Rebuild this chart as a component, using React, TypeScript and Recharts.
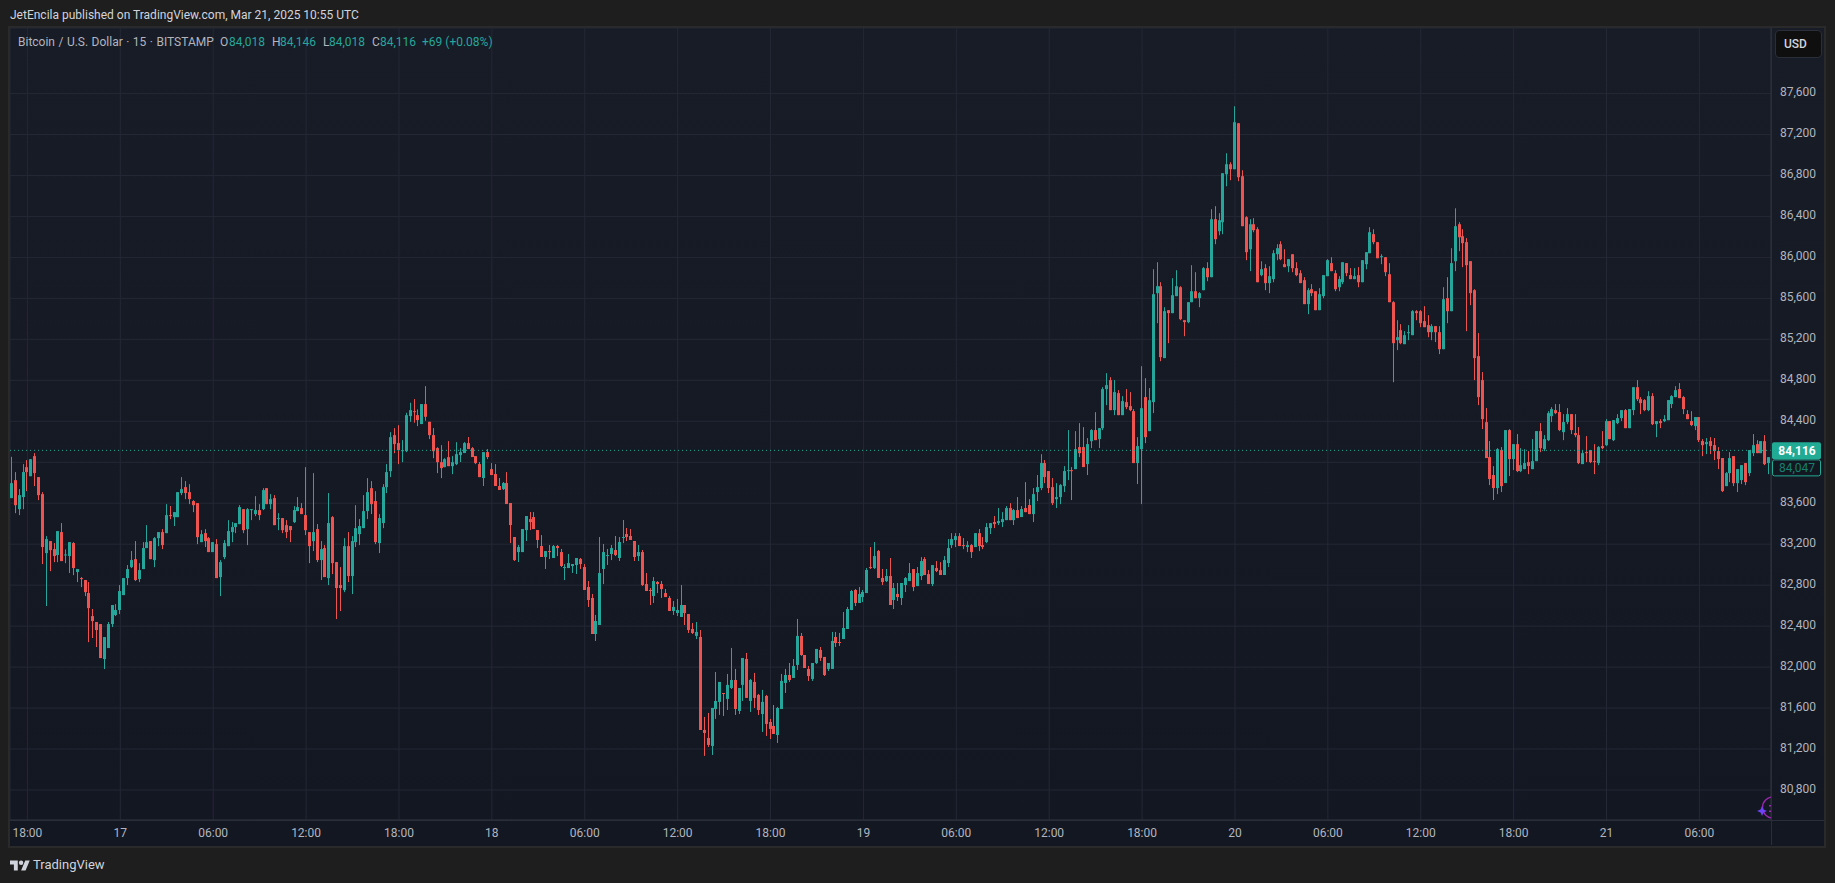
import { Bar, CartesianGrid, ComposedChart, ReferenceLine, XAxis, YAxis } from 'recharts'

// 15 minute BTC/USD bars, first bar is Mar 16 17:00
const opens = [
  83650,83825,83542,83660,83952,83864,84060,83855,83689,83113,
  83230,83152,83094,83318,83094,83084,83211,82928,82869,82850,
  82723,82498,82440,82420,82079,82186,82420,82508,82557,82703,
  82869,82976,83054,82859,82957,83162,83230,83045,83259,83318,
  83308,83484,83464,83464,83699,83757,83708,83621,83601,83220,
  83308,83259,83123,83201,82879,83074,83181,83318,83367,83396,
  83542,83347,83533,83494,83533,83542,83747,83591,83650,83445,
  83455,83386,83377,83416,83523,83552,83484,83318,83230,83347,
  83045,83162,82869,83464,83025,82801,82752,83181,82889,83220,
  83298,83357,83523,83747,83621,83211,83406,83757,83913,84265,
  84187,84108,84108,84451,84499,84460,84373,84568,84395,84265,
  84138,84001,83952,84050,83962,83982,84070,84090,84187,84138,
  84060,83982,83846,84099,83933,83885,83768,83738,83797,83602,
  83270,83123,83123,83338,83445,83465,83338,83182,83075,83133,
  83065,83182,83123,82967,82967,82987,82997,83055,82977,82782,
  82675,82323,82411,82958,83084,83104,83143,83065,83260,83299,
  83280,83231,83084,83123,82811,82753,82694,82831,82811,82723,
  82675,82548,82528,82489,82606,82518,82372,82304,82294,81386,
  81308,81230,81591,81660,81747,81689,81796,81874,81572,81826,
  82079,81669,81855,81728,81542,81718,81464,81425,81337,81591,
  81845,81923,81894,82021,82304,82118,81982,81884,82040,82167,
  82099,81982,81982,82294,82245,82274,82372,82557,82753,82626,
  82684,82723,82977,82967,83133,82870,82840,82889,82655,82714,
  82674,82801,82840,82957,82791,82889,83055,82908,82811,82967,
  82947,82899,83016,83191,83240,83279,83191,83172,83191,83172,
  83308,83191,83221,83357,83416,83406,83416,83435,83553,83435,
  83533,83465,83553,83582,83494,83709,83748,83992,83914,83757,
  83640,83660,83767,83914,83923,83933,84148,84148,83982,84206,
  84314,84226,84333,84714,84802,84509,84675,84460,84587,84548,
  84499,83992,84128,84636,84304,84587,85651,85719,85017,85485,
  85456,85622,85709,85387,85368,85563,85670,85602,85680,85895,
  85807,86373,86256,86344,86812,86910,86861,87310,86793,86393,
  86080,86324,86275,85827,85895,85749,85788,86032,86129,85934,
  85914,86031,85895,85846,85778,85544,85690,85670,85485,85622,
  85817,85944,85846,85709,85758,85944,85827,85788,85827,85758,
  85934,86041,86227,86149,86002,86002,85836,85563,85192,85290,
  85153,85261,85241,85475,85475,85378,85339,85270,85329,85270,
  85104,85602,85475,85963,86324,86207,86149,85963,85680,85036,
  84802,84392,84050,83875,83748,84119,83797,84314,84031,84177,
  83914,83933,84002,83933,84011,84304,84128,84216,84450,84509,
  84490,84294,84392,84470,84285,84265,83982,84099,84119,84011,
  83992,84158,84167,84402,84216,84382,84431,84509,84333,84509,
  84733,84616,84607,84509,84646,84372,84402,84402,84411,84568,
  84636,84714,84636,84470,84402,84353,84441,84207,84177,84207,
  84167,84109,84041,83767,83894,84060,83796,83826,83992,83894,
  84089,84177,84089,84206,83992,
]
const closes = [
  83796,83581,83679,83904,83904,84030,83894,83679,83172,83250,
  83142,83084,83328,83035,83100,83220,82967,82957,82859,82732,
  82576,82449,82362,82088,82293,82420,82606,82557,82742,82869,
  82957,83045,82850,82947,83162,83220,83054,83259,83318,83191,
  83484,83474,83513,83708,83738,83699,83640,83581,83269,83298,
  83230,83123,83220,82869,83025,83211,83328,83367,83406,83562,
  83337,83542,83542,83533,83484,83728,83591,83640,83386,83455,
  83337,83318,83337,83533,83562,83494,83337,83181,83318,83045,
  83152,82879,83406,83015,82772,82772,83181,82889,83230,83357,
  83377,83523,83708,83591,83220,83455,83757,83904,84245,84177,
  84118,84118,84460,84509,84490,84412,84568,84444,84265,84108,
  84001,83943,84030,83962,84001,84079,84099,84187,84129,84051,
  83992,83855,84099,84051,83875,83768,83729,83797,83592,83387,
  83045,83172,83348,83475,83416,83348,83241,83075,83133,83123,
  83182,83162,82987,82977,83016,83006,83065,83006,82753,82655,
  82323,82450,82918,83123,83094,83162,83094,83221,83270,83270,
  83241,83075,83123,82801,82743,82743,82840,82811,82762,82684,
  82548,82587,82557,82606,82528,82362,82333,82343,81386,81357,
  81240,81601,81669,81855,81738,81826,81874,81591,81796,82089,
  81699,81874,81699,81581,81660,81445,81396,81347,81601,81865,
  81923,81874,82011,82304,82118,81991,81913,82040,82177,82089,
  81923,82040,82255,82235,82235,82382,82567,82743,82626,82714,
  82733,82948,82967,83084,82870,82831,82889,82606,82772,82684,
  82821,82869,82918,82781,82918,83035,82899,82811,82996,82938,
  82899,83045,83162,83250,83279,83182,83182,83191,83123,83308,
  83182,83172,83367,83406,83396,83426,83445,83553,83435,83533,
  83455,83543,83513,83494,83689,83757,83992,83855,83748,83601,
  83660,83777,83914,83923,83914,84128,84089,83953,84177,84314,
  84216,84333,84714,84753,84509,84685,84460,84597,84538,84509,
  83992,84158,84528,84245,84606,85641,85719,85026,85475,85456,
  85631,85719,85397,85368,85563,85670,85602,85651,85895,85807,
  86373,86178,86363,86822,86910,86861,87320,86783,86305,86051,
  86324,86266,85758,85885,85749,85817,86041,86090,85983,85905,
  85983,85895,85827,85749,85544,85680,85651,85485,85641,85827,
  85973,85866,85690,85788,85953,85846,85788,85817,85758,85973,
  86051,86246,86149,85992,86012,85856,85563,85163,85221,85163,
  85241,85270,85475,85456,85358,85319,85270,85329,85270,85104,
  85592,85475,85944,86305,86197,86139,85924,85651,85017,84636,
  84421,84041,83836,83748,84128,83767,84314,84031,84177,83914,
  83972,83992,83963,84011,84304,84138,84226,84480,84519,84480,
  84314,84392,84470,84314,84265,83992,84089,84089,84002,84002,
  84148,84138,84402,84226,84411,84431,84509,84333,84519,84733,
  84616,84577,84509,84646,84372,84402,84382,84421,84607,84646,
  84704,84626,84519,84421,84363,84441,84216,84167,84197,84158,
  84109,84031,83719,83894,84041,83796,83933,83972,83806,84119,
  84167,84089,84206,83982,84050,
]
const highs = [
  84053,83904,83738,83982,84021,84030,84089,83855,83708,83279,
  83230,83211,83328,83406,83149,83220,83220,82957,82879,82850,
  82830,82567,82440,82420,82293,82440,82606,82615,82801,82869,
  82996,83133,83230,83015,83220,83386,83230,83269,83318,83347,
  83591,83572,83513,83708,83855,83816,83786,83630,83601,83337,
  83347,83269,83220,83250,83045,83240,83435,83416,83406,83581,
  83542,83552,83542,83669,83591,83747,83747,83689,83679,83503,
  83455,83435,83377,83572,83660,83601,83952,83318,83894,83396,
  83230,83191,83699,83474,83025,82976,83259,83318,83279,83581,
  83445,83679,83845,83816,83718,83494,83786,83982,84294,84333,
  84362,84216,84483,84581,84617,84516,84568,84743,84395,84333,
  84147,84167,84040,84206,84060,84196,84138,84197,84246,84148,
  84060,84002,84099,84129,83992,83982,83846,83807,83904,83602,
  83270,83192,83348,83475,83514,83514,83338,83289,83133,83192,
  83192,83192,83153,83006,83104,83006,83065,83065,83006,82840,
  82714,82509,83270,83202,83153,83192,83280,83270,83436,83358,
  83348,83231,83192,83143,82918,82772,82879,82840,82840,82762,
  82694,82645,82665,82801,82606,82518,82430,82440,82362,81513,
  81552,81601,81952,81855,81747,81933,82187,81982,81796,82089,
  82138,81884,81943,81738,81777,81728,81494,81630,81611,81933,
  81982,82040,82079,82470,82333,82118,82011,82040,82177,82196,
  82099,82040,82343,82343,82333,82538,82587,82753,82762,82782,
  82753,82967,83172,83221,83143,82958,82958,83065,82821,82821,
  82821,82879,83016,82957,82977,83074,83074,82947,82996,83035,
  83025,83084,83250,83308,83308,83308,83260,83230,83201,83308,
  83348,83269,83406,83406,83474,83553,83513,83572,83601,83543,
  83660,83572,83806,83640,83748,83875,84079,84021,83914,83845,
  83796,83787,83962,84314,83953,84304,84382,84343,84236,84323,
  84489,84333,84733,84870,84831,84802,84704,84645,84714,84685,
  84519,84245,84938,84821,84724,85885,85953,85758,85514,85485,
  85797,85875,85719,85387,85563,85924,85856,85661,85905,85953,
  86471,86500,86432,86822,87017,86929,87476,87310,86851,86402,
  86373,86383,86295,85963,85934,85914,86071,86129,86158,86080,
  85983,86031,85953,85875,85807,85700,85739,85670,85700,85827,
  85983,86002,85875,85817,85953,85944,85895,85895,85905,85973,
  86051,86295,86275,86149,86031,86002,85944,85573,85387,85348,
  85280,85339,85485,85485,85485,85524,85436,85348,85329,85329,
  85709,85807,86090,86480,86344,86275,86188,85963,85690,85261,
  84880,84529,84207,83962,84138,84148,84314,84324,84177,84275,
  84138,84128,84109,84226,84304,84382,84265,84499,84538,84568,
  84568,84470,84529,84470,84470,84343,84119,84255,84119,84177,
  84158,84304,84421,84402,84411,84470,84509,84519,84519,84733,
  84802,84636,84616,84694,84675,84402,84421,84460,84607,84655,
  84743,84773,84646,84509,84499,84441,84441,84226,84236,84245,
  84236,84148,84041,83904,84099,84060,83933,83972,83992,84119,
  84275,84216,84206,84265,84050,
]
const lows = [
  83650,83503,83484,83542,83718,83864,83767,83630,83006,82596,
  82937,83025,83025,83035,83015,82918,82898,82830,82781,82693,
  82244,82284,82196,82088,81981,82186,82391,82498,82518,82703,
  82801,82967,82840,82830,82957,83162,83054,82976,83181,83152,
  83308,83445,83377,83464,83679,83640,83591,83513,83201,83220,
  83172,83123,83123,82869,82693,83054,83181,83220,83308,83396,
  83308,83191,83435,83474,83435,83533,83591,83542,83386,83337,
  83308,83259,83220,83406,83523,83494,83289,83015,83133,83025,
  82850,82879,82801,82908,82469,82547,82732,82830,82713,83172,
  83191,83357,83445,83494,83201,83113,83357,83699,83855,84089,
  83982,84001,84099,84395,84386,84353,84373,84405,84226,84040,
  83894,83845,83952,83962,83884,83972,84002,84090,84129,84051,
  83982,83855,83768,84031,83875,83768,83729,83729,83592,83211,
  83036,83026,83123,83231,83338,83348,83162,83075,82958,83055,
  83065,83084,82977,82850,82967,82919,82909,82958,82753,82587,
  82323,82255,82411,82811,82997,83045,83084,83036,83211,83231,
  83241,83036,83036,82792,82743,82606,82626,82723,82675,82684,
  82548,82509,82499,82489,82411,82333,82323,82274,81386,81133,
  81220,81142,81494,81533,81523,81581,81786,81533,81542,81669,
  81699,81562,81601,81533,81367,81328,81298,81347,81259,81591,
  81747,81855,81894,81972,82109,81991,81865,81865,82030,82060,
  81913,81962,81982,82196,82206,82274,82372,82557,82596,82626,
  82635,82723,82958,82958,82870,82801,82831,82606,82567,82645,
  82606,82733,82840,82742,82791,82850,82899,82811,82791,82928,
  82899,82899,82977,83162,83172,83182,83152,83123,83065,83172,
  83133,83152,83211,83299,83357,83387,83367,83435,83435,83387,
  83455,83465,83513,83494,83416,83621,83728,83796,83699,83582,
  83553,83591,83709,83826,83631,83933,84050,83953,83875,84138,
  84216,84138,84314,84558,84509,84460,84460,84460,84519,84499,
  83992,83787,83591,84187,84304,84480,85358,84987,85017,85163,
  85456,85622,85387,85231,85358,85563,85602,85514,85680,85768,
  85807,86129,86217,86227,86695,86754,86861,86744,86305,85973,
  85866,86246,85758,85817,85680,85651,85758,85973,85973,85905,
  85856,85856,85817,85749,85544,85446,85622,85485,85485,85602,
  85817,85866,85670,85670,85739,85817,85788,85788,85709,85758,
  85885,86041,86129,85992,85934,85817,85563,84782,85095,85153,
  85153,85192,85241,85387,85319,85319,85221,85192,85173,85056,
  85104,85358,85475,85866,86061,85905,85280,85534,84802,84558,
  84324,84041,83777,83631,83689,83709,83797,83865,83924,83904,
  83904,83933,83884,83933,84011,84099,84109,84207,84392,84470,
  84304,84216,84372,84275,84245,83982,83982,84002,83992,83884,
  83972,84128,84158,84226,84207,84372,84402,84333,84333,84460,
  84597,84470,84499,84499,84363,84245,84333,84392,84411,84529,
  84636,84626,84470,84421,84353,84314,84197,84060,84080,84080,
  84021,83933,83709,83767,83806,83767,83709,83787,83777,83865,
  84060,84089,84089,83972,83884,
]

// a grid line every 24 bars (6 hours)
const timeTicks = [4,28,52,76,100,124,148,172,196,220,244,268,292,316,340,364,388,412,436]
const timeLabels = ['18:00','17','06:00','12:00','18:00','18','06:00','12:00','18:00','19','06:00','12:00','18:00','20','06:00','12:00','18:00','21','06:00']
const priceTicks = [80800,81200,81600,82000,82400,82800,83200,83600,84000,84400,84800,85200,85600,86000,86400,86800,87200,87600]
const coveredTick = 84000 // sits behind the price tags, only its grid line shows
const lastPrice = 84116
const prevPrice = 84047

const UP = '#26a69a'
const DOWN = '#ef5350'
const TAG = '#22ab94'
const GRID = '#242835'
const LINE = '#2a2e39'
const TEXT = '#b2b5be'
const FONT = 'Roboto, sans-serif'

const rows = opens.map((o, i) => ({
  t: i,
  body: [Math.min(o, closes[i]), Math.max(o, closes[i])],
  wick: [lows[i], highs[i]],
  up: closes[i] >= o,
}))

function CandlePart(p: any) {
  return (
    <rect
      x={Math.round(p.x)}
      y={p.y}
      width={p.width}
      height={Math.max(p.height, 1)}
      fill={p.payload.up ? UP : DOWN}
    />
  )
}

function PriceTags({ viewBox }: any) {
  const x = viewBox.x + viewBox.width + 1
  const y = viewBox.y
  return (
    <g fontFamily={FONT} fontSize={12}>
      <rect x={x} y={y - 8} width={49} height={17} rx={2} fill={TAG} />
      <text x={x + 25} y={y + 4.5} textAnchor="middle" fill="#fff" fontWeight={700}>
        {lastPrice.toLocaleString('en-US')}
      </text>
      <rect x={x + 0.5} y={y + 9.5} width={48} height={16} rx={2} fill="#131722" stroke={TAG} />
      <text x={x + 25} y={y + 22} textAnchor="middle" fill="#16806e">
        {prevPrice.toLocaleString('en-US')}
      </text>
    </g>
  )
}

const label = (left: number, top: number, color: string, text: string, extra: any = {}) => (
  <span style={{ position: 'absolute', left, top, color, fontSize: 12, lineHeight: '16px', whiteSpace: 'pre', ...extra }}>
    {text}
  </span>
)

export default function App() {
  return (
    <div style={{ position: 'absolute', left: 0, top: 0, width: 1835, height: 883, background: '#1e1e1e', overflow: 'hidden', fontFamily: FONT }}>
      <div style={{ position: 'absolute', left: 8, top: 26, width: 1814, height: 818, border: '2px solid #2a2a2a', background: 'linear-gradient(#181c27, #131722)' }} />
      {label(10, 7, '#d1d4dc', 'JetEncila published on TradingView.com, Mar 21, 2025 10:55 UTC')}

      <div style={{ position: 'absolute', left: 0, top: 0 }}>
        <ComposedChart width={1835} height={883} data={rows} margin={{ top: 28, right: 10, bottom: 36, left: 10 }} barCategoryGap={0}>
          <CartesianGrid stroke={GRID} xAxisId="time" />
          <XAxis
            xAxisId="time"
            dataKey="t"
            type="category"
            ticks={timeTicks}
            interval={0}
            height={27}
            tickLine={false}
            axisLine={{ stroke: LINE }}
            tick={{ fill: TEXT, fontSize: 12, fontFamily: FONT }}
            tickFormatter={(v: number) => timeLabels[timeTicks.indexOf(v)]}
            tickMargin={2}
          />
          <XAxis xAxisId="candle" dataKey="t" type="category" hide height={0} />
          <YAxis
            orientation="right"
            type="number"
            width={54}
            domain={[80507, 88240]}
            allowDataOverflow
            ticks={priceTicks}
            interval={0}
            tickLine={false}
            axisLine={{ stroke: LINE }}
            tick={{ fill: TEXT, fontSize: 12, fontFamily: FONT, dy: -1.5 }}
            tickFormatter={(v: number) => (v === coveredTick ? '' : v.toLocaleString('en-US'))}
            tickMargin={3}
          />
          <ReferenceLine
            xAxisId="time"
            y={lastPrice}
            stroke={TAG}
            strokeDasharray="1 3"
            label={<PriceTags />}
          />
          <Bar xAxisId="time" dataKey="wick" barSize={1} shape={CandlePart} isAnimationActive={false} />
          <Bar xAxisId="candle" dataKey="body" barSize={3} shape={CandlePart} isAnimationActive={false} />
        </ComposedChart>
      </div>

      {/* legend line */}
      {label(18, 34, TEXT, 'Bitcoin / U.S. Dollar · 15 · BITSTAMP', { wordSpacing: 0.5 })}
      {label(220, 34, TEXT, 'O')}
      {label(229, 34, UP, '84,018')}
      {label(272, 34, TEXT, 'H')}
      {label(280, 34, UP, '84,146')}
      {label(323, 34, TEXT, 'L')}
      {label(329, 34, UP, '84,018')}
      {label(372, 34, TEXT, 'C')}
      {label(380, 34, UP, '84,116')}
      {label(422, 34, UP, '+69 (+0.08%)')}

      {/* frame bits that run under the price scale */}
      <div style={{ position: 'absolute', left: 1771, top: 28, width: 1, height: 817, background: LINE }} />
      <div style={{ position: 'absolute', left: 10, top: 820, width: 1814, height: 1, background: LINE }} />

      {/* currency button */}
      <div style={{ position: 'absolute', left: 1775, top: 30, width: 45, height: 26, boxSizing: 'content-box', background: '#0f0f0f', border: '1px solid #2a2e39', borderRadius: 4 }} />
      {label(1784, 36, '#d1d4dc', 'USD', { fontWeight: 500 })}

      {/* assistant marker at the bottom of the plot */}
      <svg style={{ position: 'absolute', left: 1755, top: 795 }} width={16} height={25}>
        <circle cx={18} cy={12.5} r={10.5} fill="none" stroke="#9c27b0" strokeWidth={1.3} />
        <rect x={14} y={10} width={2} height={1.5} fill="#9c27b0" />
        <rect x={14} y={15.5} width={2} height={1.5} fill="#9c27b0" />
        <path d="M7 11 L8.5 14.5 L12 16 L8.5 17.5 L7 21 L5.5 17.5 L2 16 L5.5 14.5 Z" fill="#6e43f5" />
      </svg>

      {/* footer logo */}
      <svg style={{ position: 'absolute', left: 10, top: 860 }} width={20} height={11} viewBox="0 4 36 18">
        <path d="M14 22H7V11H0V4h14v18zM28 22h-8l7.5-18h8L28 22z" fill="#d1d4dc" />
        <circle cx={20} cy={8} r={4} fill="#d1d4dc" />
      </svg>
      {label(33, 856, '#d1d4dc', 'TradingView', { fontSize: 13, lineHeight: '18px' })}
    </div>
  )
}
